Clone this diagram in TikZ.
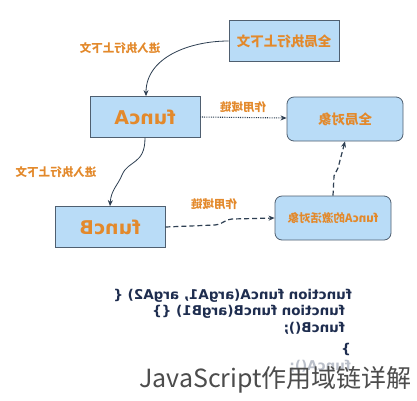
\documentclass[tikz,border=0pt]{standalone}
\usepackage{graphicx}
\usepackage{fontspec}
\setmainfont{DejaVu Sans}
\newfontfamily\cjk{Noto Sans CJK SC}
\newfontfamily\codefont{DejaVu Sans}
\usetikzlibrary{arrows.meta}
\definecolor{boxfill}{HTML}{B9DCF7}
\definecolor{boxline}{HTML}{4F5F70}
\definecolor{orangetxt}{HTML}{E3892B}
\definecolor{arrowc}{HTML}{2E3F52}
\definecolor{codec}{HTML}{1E2D4F}
\newcommand\mir[1]{\reflectbox{#1}}
\tikzset{
  sqbox/.style={draw=boxline, line width=0.8pt, fill=boxfill, minimum width=110pt, minimum height=41pt, inner sep=0pt},
  rdbox/.style={sqbox, rounded corners=7pt, minimum width=116pt, minimum height=44pt},
  lbl/.style={text=orangetxt, font=\cjk\fontsize{11.5}{12}\selectfont\bfseries, inner sep=0pt},
  boxtxt/.style={text=orangetxt, font=\cjk\fontsize{13.5}{14}\selectfont\bfseries},
  fntxt/.style={text=orangetxt, font=\codefont\bfseries\fontsize{19}{20}\selectfont},
  conn/.style={draw=arrowc, line width=0.8pt, -{Stealth[length=6pt,width=5pt]}},
  codeline/.style={anchor=east, inner sep=0pt, text=codec, font=\codefont\bfseries\fontsize{13.5}{14}\selectfont}
}
\begin{document}
\begin{tikzpicture}[x=1pt,y=-1pt]
\useasboundingbox (0,0) rectangle (417,400);
\fill[white] (0,0) rectangle (417,400);
% boxes
\node[sqbox] (gctx) at (284,41) {};
\node[boxtxt] at (gctx) {\mir{全局执行上下文}};
\node[sqbox] (fa) at (145,117) {};
\node[fntxt] at (fa) {\mir{funcA}};
\node[rdbox] (gobj) at (345,119) {};
\node[boxtxt] at (gobj) {\mir{全局对象}};
\node[sqbox] (fb) at (110,227) {};
\node[fntxt] at (fb) {\mir{funcB}};
\node[rdbox] (act) at (333,218) {};
\node[text=orangetxt, font=\cjk\fontsize{11.5}{12}\selectfont\bfseries] at (act) {\mir{funcA的激活对象}};
% labels
\node[lbl] (l1) at (120,48) {\mir{进入执行上下文}};
\node[lbl] (l2) at (56,172) {\mir{进入执行上下文}};
\node[lbl] (l3) at (243,107) {\mir{作用域链}};
\node[lbl] (l4) at (214,204) {\mir{作用域链}};
% connectors
\draw[conn] (gctx.west) to[out=180,in=90] ([xshift=1pt]fa.north);
\draw[conn] (fa.south) .. controls (145,165) and (128,160) .. (122,175) .. controls (118,185) and (111,190) .. (fb.north);
\draw[conn, densely dotted, line width=1.1pt] (fa.east) -- ([yshift=1pt]gobj.west);
\draw[conn, dashed, line width=1.2pt, dash pattern=on 5pt off 3pt] (fb.east) -- (215,225) to[out=0,in=180] (232,219) -- (act.west);
\draw[conn, dashed, line width=1.2pt, dash pattern=on 5pt off 3pt] (act.north) -- (334,176) -- (338,168) -- (gobj.south);
% code (mirrored)
\node[codeline] (c1) at (352,296) {\mir{function funcA(argA1, argA2) \{}};
\node[codeline] (c2) at (345,312) {\mir{function funcB(argB1) \{\}}};
\node[codeline] (c3) at (345,328) {\mir{funcB();}};
\node[codeline] (c4) at (351,349) {\mir{\}}};
\node[codeline, text=codec!30] (c5) at (351,366) {\mir{funcA();}};
% caption
\node[anchor=west, inner sep=0pt, text=black!70, font=\cjk\fontsize{25}{28}\selectfont] (cap) at (139,380) {JavaScript作用域链详解};
\end{tikzpicture}
\end{document}
